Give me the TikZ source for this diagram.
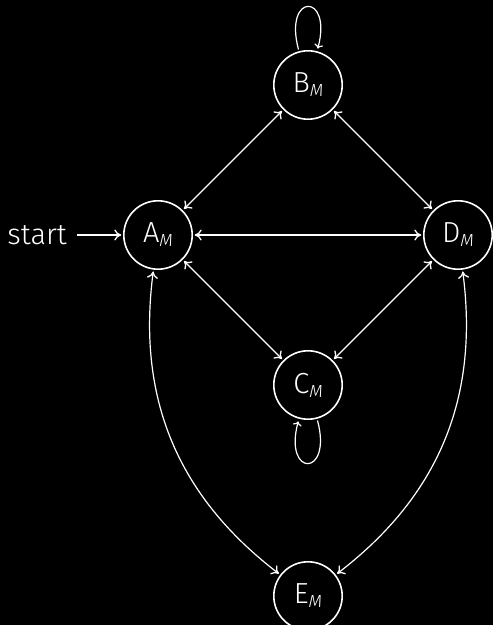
\documentclass[tikz,border=0pt]{standalone}
\usepackage{fontspec}
\setmainfont{Fira Sans}[UprightFont=* Light, ItalicFont=* Light Italic]
\usetikzlibrary{arrows.meta}
\newcommand\subM{\raisebox{-4pt}{\fontsize{17.5}{18}\selectfont\itshape M}}
\begin{document}
\begin{tikzpicture}[x=1pt,y=1pt,
  every node/.style={font=\fontsize{29}{34}\selectfont, text=white},
  state/.style={circle, draw=white, line width=1.6pt, minimum size=68.4pt, inner sep=0pt, outer sep=2.5pt},
  tip/.style={Computer Modern Rightarrow[length=7pt,width=11pt,line width=1.3pt]},
  conn/.style={draw=white, line width=1.2pt, arrows={Computer Modern Rightarrow[length=7pt,width=11pt,line width=1.3pt]-Computer Modern Rightarrow[length=7pt,width=11pt,line width=1.3pt]}},
  single/.style={draw=white, line width=1.2pt, arrows={-Computer Modern Rightarrow[length=7pt,width=11pt,line width=1.3pt]}}]
\fill[black] (0,0) rectangle (493,625);
\clip (0,0) rectangle (493,625);
\useasboundingbox (0,0) rectangle (493,625);
\node[state] (A) at (158,390) {A\subM};
\node[state] (B) at (308,540) {B\subM};
\node[state] (C) at (308,240) {C\subM};
\node[state] (D) at (458,390) {D\subM};
\node[state] (E) at (308,29) {E\subM};
\node[anchor=east, inner sep=0pt] (start) at (67,390) {start};
\coordinate (startend) at (77,390);
\draw[single] (startend) -- (A);
\draw[conn] (A) -- (B);
\draw[conn] (B) -- (D);
\draw[conn] (A) -- (D);
\draw[conn] (A) -- (C);
\draw[conn] (D) -- (C);
\draw[conn] (A) to[bend right=30] (E);
\draw[conn] (D) to[bend left=30] (E);
\path (B) edge[single, loop above] (B);
\path (C) edge[single, loop below] (C);
\end{tikzpicture}
\end{document}
